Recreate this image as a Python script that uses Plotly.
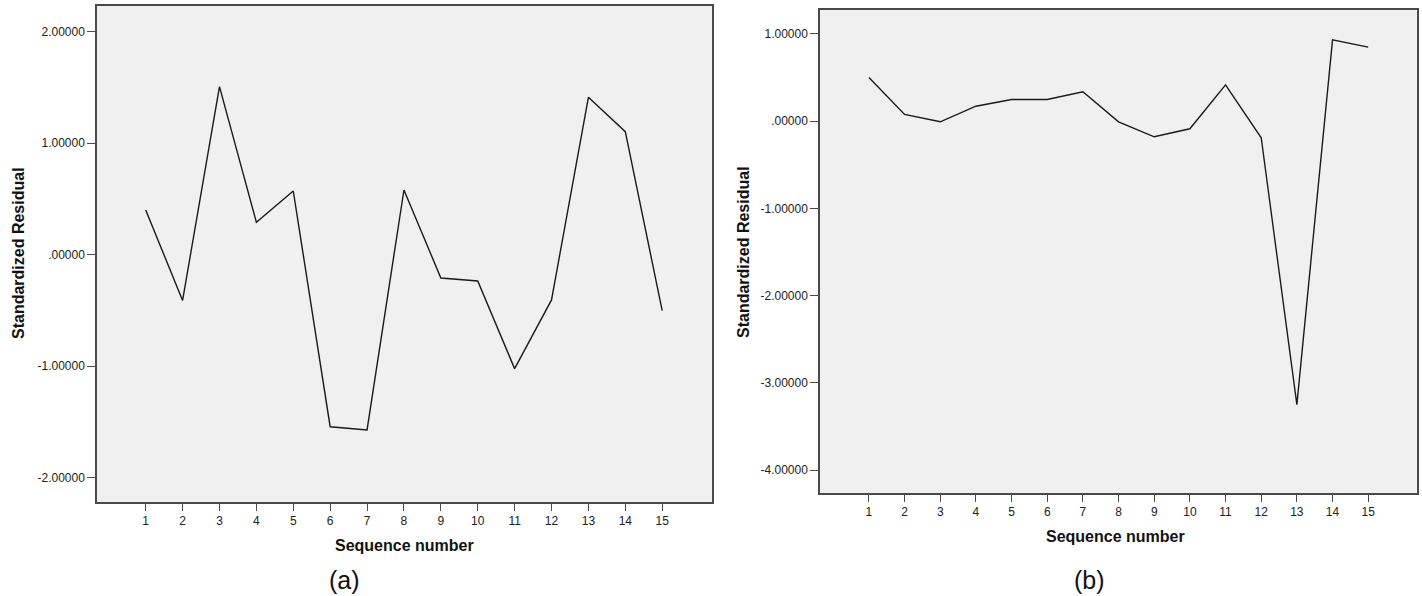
import plotly.graph_objects as go

W, H = 1422, 596

seq = list(range(1, 16))
resid_a = [0.40, -0.41, 1.507, 0.29, 0.571, -1.543, -1.572, 0.580, -0.209, -0.236,
           -1.022, -0.406, 1.411, 1.103, -0.502]
resid_b = [0.50, 0.077, -0.007, 0.172, 0.249, 0.249, 0.337, -0.007, -0.179, -0.087,
           0.417, -0.19, -3.25, 0.933, 0.849]

yticks_a = [2, 1, 0, -1, -2]
yticklabels_a = ["2.00000", "1.00000", ".00000", "-1.00000", "-2.00000"]
yticks_b = [1, 0, -1, -2, -3, -4]
yticklabels_b = ["1.00000", ".00000", "-1.00000", "-2.00000", "-3.00000", "-4.00000"]

x_title = "Sequence number"
y_title = "Standardized Residual"
panel_labels = ["(a)", "(b)"]

FONT = "Liberation Sans, Arial, sans-serif"
FRAME = "#4a4a4a"

def px_x(p):
    return p / W

def px_y(p):
    return 1 - p / H

fig = go.Figure()
fig.add_trace(go.Scatter(x=seq, y=resid_a, mode="lines", line=dict(color="#1a1a1a", width=1.4),
                         xaxis="x", yaxis="y", showlegend=False))
fig.add_trace(go.Scatter(x=seq, y=resid_b, mode="lines", line=dict(color="#1a1a1a", width=1.4),
                         xaxis="x2", yaxis="y2", showlegend=False))

common_x = dict(showgrid=False, zeroline=False, showline=True, mirror=True, linecolor=FRAME,
                linewidth=1.5, ticks="outside", ticklen=7, tickwidth=1.3, tickcolor=FRAME,
                tickvals=seq, ticktext=[str(s) for s in seq],
                tickfont=dict(family=FONT, size=12, color="#222"))
common_y = dict(showgrid=False, zeroline=False, showline=True, mirror=True, linecolor=FRAME,
                linewidth=1.5, ticks="outside", ticklen=8, tickwidth=1.3, tickcolor=FRAME,
                tickfont=dict(family=FONT, size=12, color="#222"))

fig.update_layout(
    width=W, height=H,
    margin=dict(l=0, r=0, t=0, b=0),
    paper_bgcolor="white",
    plot_bgcolor="#f0f0f0",
    xaxis=dict(domain=[px_x(97), px_x(712)], range=[-0.32, 16.35], anchor="y", **common_x),
    yaxis=dict(domain=[px_y(502), px_y(6)], range=[-2.218, 2.23], anchor="x",
               tickvals=yticks_a, ticktext=yticklabels_a, **common_y),
    xaxis2=dict(domain=[px_x(820), px_x(1416.7)], range=[-0.372, 16.36], anchor="y2", **common_x),
    yaxis2=dict(domain=[px_y(493.3), px_y(10)], range=[-4.267, 1.275], anchor="x2",
                tickvals=yticks_b, ticktext=yticklabels_b, **common_y),
)

# second panel needs its own background; plot_bgcolor applies to all subplots
ann = []
def add_text(text, x, y, size, bold=False, angle=0):
    ann.append(dict(text=f"<b>{text}</b>" if bold else text, x=px_x(x), y=px_y(y),
                    xref="paper", yref="paper", showarrow=False, xanchor="center", yanchor="middle",
                    textangle=angle, font=dict(family=FONT, size=size, color="#111")))

add_text(x_title, 404, 545, 16, bold=True)
add_text(x_title, 1115, 536, 16, bold=True)
add_text(y_title, 19, 253, 16, bold=True, angle=-90)
add_text(y_title, 744, 252, 16, bold=True, angle=-90)
add_text(panel_labels[0], 344, 580, 25)
add_text(panel_labels[1], 1089, 580, 25)
fig.update_layout(annotations=ann)

fig.write_html("out.html")
